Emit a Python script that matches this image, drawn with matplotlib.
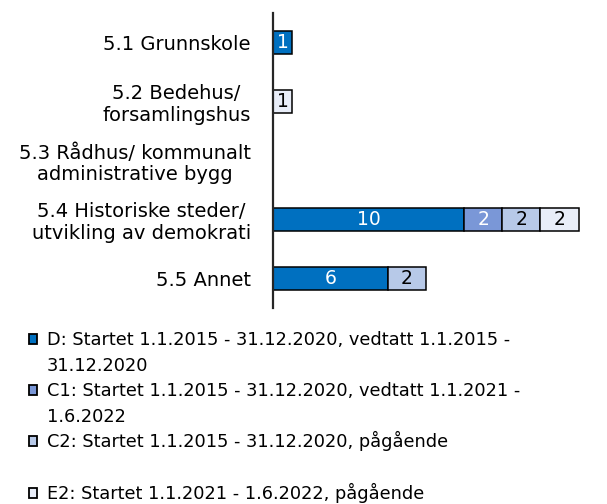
import numpy as np
import matplotlib.pyplot as plt
from matplotlib.patches import Rectangle

W, H = 607, 504

categories = [
    "5.1 Grunnskole",
    "5.2 Bedehus/\nforsamlingshus",
    "5.3 Rådhus/ kommunalt\nadministrative bygg",
    "5.4 Historiske steder/\nutvikling av demokrati",
    "5.5 Annet",
]
series_names = [
    "D: Startet 1.1.2015 - 31.12.2020, vedtatt 1.1.2015 -\n31.12.2020",
    "C1: Startet 1.1.2015 - 31.12.2020, vedtatt 1.1.2021 -\n1.6.2022",
    "C2: Startet 1.1.2015 - 31.12.2020, pågående",
    "E2: Startet 1.1.2021 - 1.6.2022, pågående",
]
D = [1, 0, 0, 10, 6]
C1 = [0, 0, 0, 2, 0]
C2 = [0, 0, 0, 2, 2]
E2 = [0, 1, 0, 2, 0]

colors = ["#0070C0", "#7A97D7", "#B7C9E8", "#E8EDF8"]
label_colors = ["white", "white", "black", "black"]

plt.rcParams['font.family'] = ['DejaVu Sans']

fig = plt.figure(figsize=(W / 100, H / 100), dpi=100)
# axes placed in pixel terms
ax = fig.add_axes([273 / W, 1 - 308 / H, 324.7 / W, 295.3 / H])

y = np.arange(len(categories))
left = np.zeros(len(categories))
for vals, col, lcol in zip([D, C1, C2, E2], colors, label_colors):
    vals = np.array(vals, dtype=float)
    bars = ax.barh(y, vals, left=left, height=0.39, color=col,
                   edgecolor='black', linewidth=1.1, zorder=2)
    for b, v in zip(bars, vals):
        if v == 0:
            b.set_visible(False)
    ax.bar_label(bars, labels=[f"{int(v)}" if v else "" for v in vals],
                 label_type='center', color=lcol, fontsize=13.5)
    left += vals

ax.set_xlim(0, 17)
ax.set_ylim(len(categories) - 0.5, -0.5)
ax.set_yticks(y)
ax.set_yticklabels(categories, fontsize=14)
for t in ax.get_yticklabels():
    t.set_multialignment('center')
    t.set_linespacing(1.15)
ax.tick_params(axis='y', length=0, pad=16)
ax.set_xticks([])
for s in ['top', 'right', 'bottom']:
    ax.spines[s].set_visible(False)
ax.spines['left'].set_color('#262626')
ax.spines['left'].set_linewidth(1.6)
ax.spines['left'].set_zorder(3)

# legend drawn by hand so rows line up with the reference
row_centers = [[339, 365], [390, 416], [441], [493]]
for name, col, rows in zip(series_names, colors, row_centers):
    yc = rows[0]
    fig.patches.append(Rectangle((28.5 / W, 1 - (yc + 5) / H), 8.5 / W, 10 / H,
                                 transform=fig.transFigure, facecolor=col,
                                 edgecolor='black', linewidth=1.3))
    for line, r in zip(name.split("\n"), rows):
        fig.text(47 / W, 1 - (r + 6) / H, line, fontsize=12.8,
                 va='baseline', ha='left')

fig.savefig("out.png", dpi=100)
